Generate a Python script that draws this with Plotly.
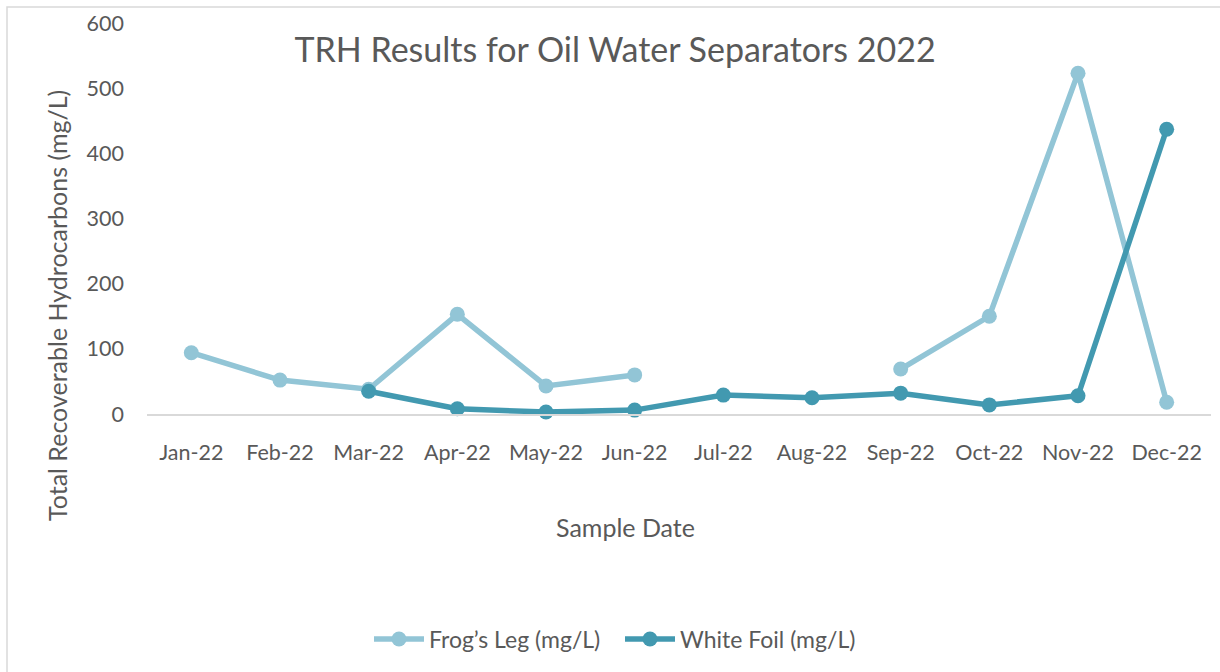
import plotly.graph_objects as go

months = ["Jan-22", "Feb-22", "Mar-22", "Apr-22", "May-22", "Jun-22",
          "Jul-22", "Aug-22", "Sep-22", "Oct-22", "Nov-22", "Dec-22"]
frogs_leg = [94, 52, 38, 153, 43, 60, None, None, 69, 150, 523, 18]
white_foil = [None, None, 35, 8, 3, 6, 29, 25, 32, 14, 28, 437]
y_ticks = [0, 100, 200, 300, 400, 500, 600]

FONT = "Lato, Carlito, Calibri, 'Open Sans', sans-serif"
GREY = "#595959"

L, R, T, B = 147, 9, 23, 258
PW, PH = 1220 - L - R, 672 - T - B


def px_x(x):
    return (x - L) / PW


def px_y(y):
    return (672 - B - y) / PH


fig = go.Figure()
fig.add_trace(go.Scatter(
    x=months, y=frogs_leg, name="Frog\u2019s Leg (mg/L)", mode="lines+markers",
    line=dict(color="#92C5D6", width=5.5), marker=dict(size=15, color="#92C5D6"),
    connectgaps=False, cliponaxis=False))
fig.add_trace(go.Scatter(
    x=months, y=white_foil, name="White Foil (mg/L)", mode="lines+markers",
    line=dict(color="#4299B0", width=5.5), marker=dict(size=15, color="#4299B0"),
    connectgaps=False, cliponaxis=False))

fig.update_layout(
    width=1220, height=672,
    margin=dict(l=L, r=R, t=T, b=B, autoexpand=False),
    paper_bgcolor="white", plot_bgcolor="white",
    font=dict(family=FONT, color=GREY, size=21),
    title=dict(text="TRH Results for Oil Water Separators 2022",
               x=615 / 1220, xanchor="center", y=1 - 50 / 672, yanchor="middle",
               font=dict(size=34, color=GREY, family=FONT)),
    showlegend=True,
    legend=dict(orientation="h", x=px_x(620), xanchor="center", y=px_y(639), yanchor="middle",
                font=dict(size=23, color=GREY), bgcolor="rgba(0,0,0,0)",
                entrywidth=186, itemwidth=50),
    xaxis=dict(type="category", categoryorder="array", categoryarray=months,
               range=[-0.5, 11.5],
               showgrid=False, showline=True, linecolor="#D9D9D9", linewidth=2,
               ticks="", ticklabelstandoff=18, tickfont=dict(size=21.5, color=GREY),
               zeroline=False, automargin=False),
    yaxis=dict(range=[0, 600], tickvals=y_ticks, showgrid=False, showline=False,
               zeroline=False, ticks="", ticklabelstandoff=22, automargin=False,
               tickfont=dict(size=21.5, color=GREY)),
    annotations=[
        dict(text="Total Recoverable Hydrocarbons (mg/L)", xref="paper", yref="paper",
             x=px_x(57), y=px_y(306), xanchor="center", yanchor="middle",
             textangle=-90, showarrow=False, font=dict(size=25, color=GREY)),
        dict(text="Sample Date", xref="paper", yref="paper",
             x=px_x(625), y=px_y(527), xanchor="center", yanchor="middle",
             showarrow=False, font=dict(size=25, color=GREY)),
    ],
    shapes=[dict(type="rect", xref="paper", yref="paper",
                 x0=px_x(7), x1=px_x(1240), y0=px_y(700), y1=px_y(7),
                 line=dict(color="#D9D9D9", width=1.5), fillcolor="rgba(0,0,0,0)",
                 layer="below")],
)

fig.write_html("out.html", config={"displayModeBar": False},
               post_script="document.body.style.margin='0';document.body.style.overflow='hidden';")
